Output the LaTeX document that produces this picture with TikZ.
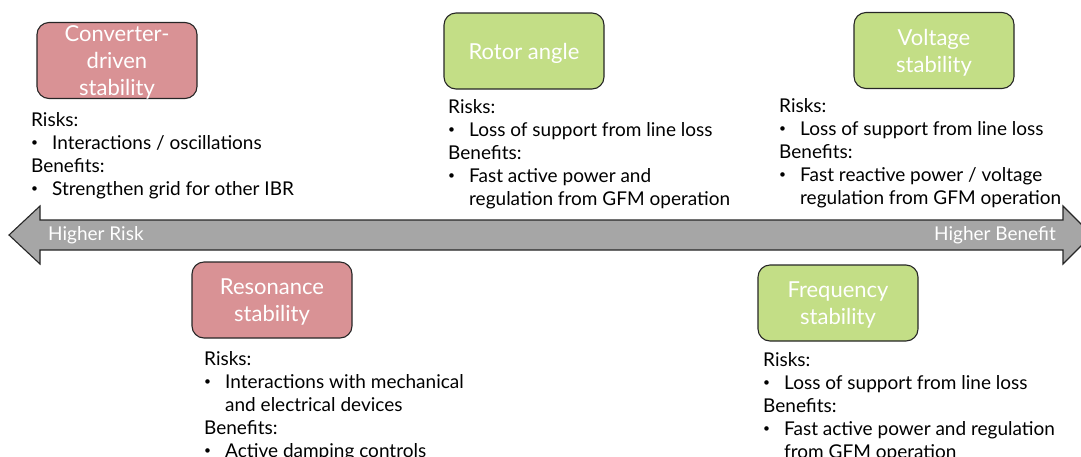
\documentclass[tikz,border=0pt]{standalone}
\usepackage{fontspec}
\setmainfont{Lato}
\definecolor{riskred}{RGB}{217,146,149}
\definecolor{gaingreen}{RGB}{195,222,134}
\definecolor{axisgray}{RGB}{166,166,166}
\newcommand{\bul}{\makebox[21pt][l]{\raisebox{0.25ex}{\fontsize{12}{12}\selectfont\textbullet}}}
\newcommand{\ind}{\hspace*{21pt}}
\tikzset{
  stab/.style={draw=black!85, line width=1.1pt, rounded corners=12pt,
    minimum width=160pt, minimum height=76pt, inner sep=0pt, text depth=0pt,
    text=white, align=center, font=\fontsize{22}{27}\selectfont},
  riskbox/.style={stab, fill=riskred},
  gainbox/.style={stab, fill=gaingreen},
  notes/.style={anchor=north west, inner sep=0pt, align=left,
    font=\fontsize{19}{23}\selectfont},
  axislabel/.style={text=white, inner sep=0pt, font=\fontsize{19}{22}\selectfont}
}
\begin{document}
\begin{tikzpicture}[x=1pt,y=-1pt]
    \useasboundingbox (0,0) rectangle (1081,456);
    \clip (0,0) rectangle (1081,456);
    % risk / benefit axis
    \draw[fill=axisgray, draw=black!85, line width=1.1pt, line join=miter]
        (9,235) -- (40,206) -- (40,220) -- (1063,220) -- (1063,206)
        -- (1092,235) -- (1063,264) -- (1063,250) -- (40,250) -- (40,264) -- cycle;
    \node[axislabel, anchor=west] (lowend) at (48,235) {Higher Risk};
    \node[axislabel, anchor=east] (highend) at (1056,235) {Higher Benefit};
    % stability categories
    \node[riskbox] (conv) at (117,60.5) {Converter-\\driven\\stability};
    \node[gainbox] (rotor) at (524,51) {Rotor angle};
    \node[gainbox] (volt) at (934,50.5) {Voltage\\stability};
    \node[riskbox] (reson) at (272,300) {Resonance\\stability};
    \node[gainbox] (freq) at (838,303) {Frequency\\stability};
    % risks and benefits
    \node[notes] (convtxt) at (31,112) {Risks:\\ \bul Interactions / oscillations\\
        Benefits:\\ \bul Strengthen grid for other IBR};
    \node[notes] (rotortxt) at (448,99) {Risks:\\ \bul Loss of support from line loss\\
        Benefits:\\ \bul Fast active power and\\ \ind regulation from GFM operation};
    \node[notes] (volttxt) at (779,98) {Risks:\\ \bul Loss of support from line loss\\
        Benefits:\\ \bul Fast reactive power / voltage\\ \ind regulation from GFM operation};
    \node[notes] (resontxt) at (204,351) {Risks:\\ \bul Interactions with mechanical\\
        \ind and electrical devices\\ Benefits:\\ \bul Active damping controls};
    \node[notes] (freqtxt) at (763,352) {Risks:\\ \bul Loss of support from line loss\\
        Benefits:\\ \bul Fast active power and regulation\\ \ind from GFM operation};
\end{tikzpicture}
\end{document}
